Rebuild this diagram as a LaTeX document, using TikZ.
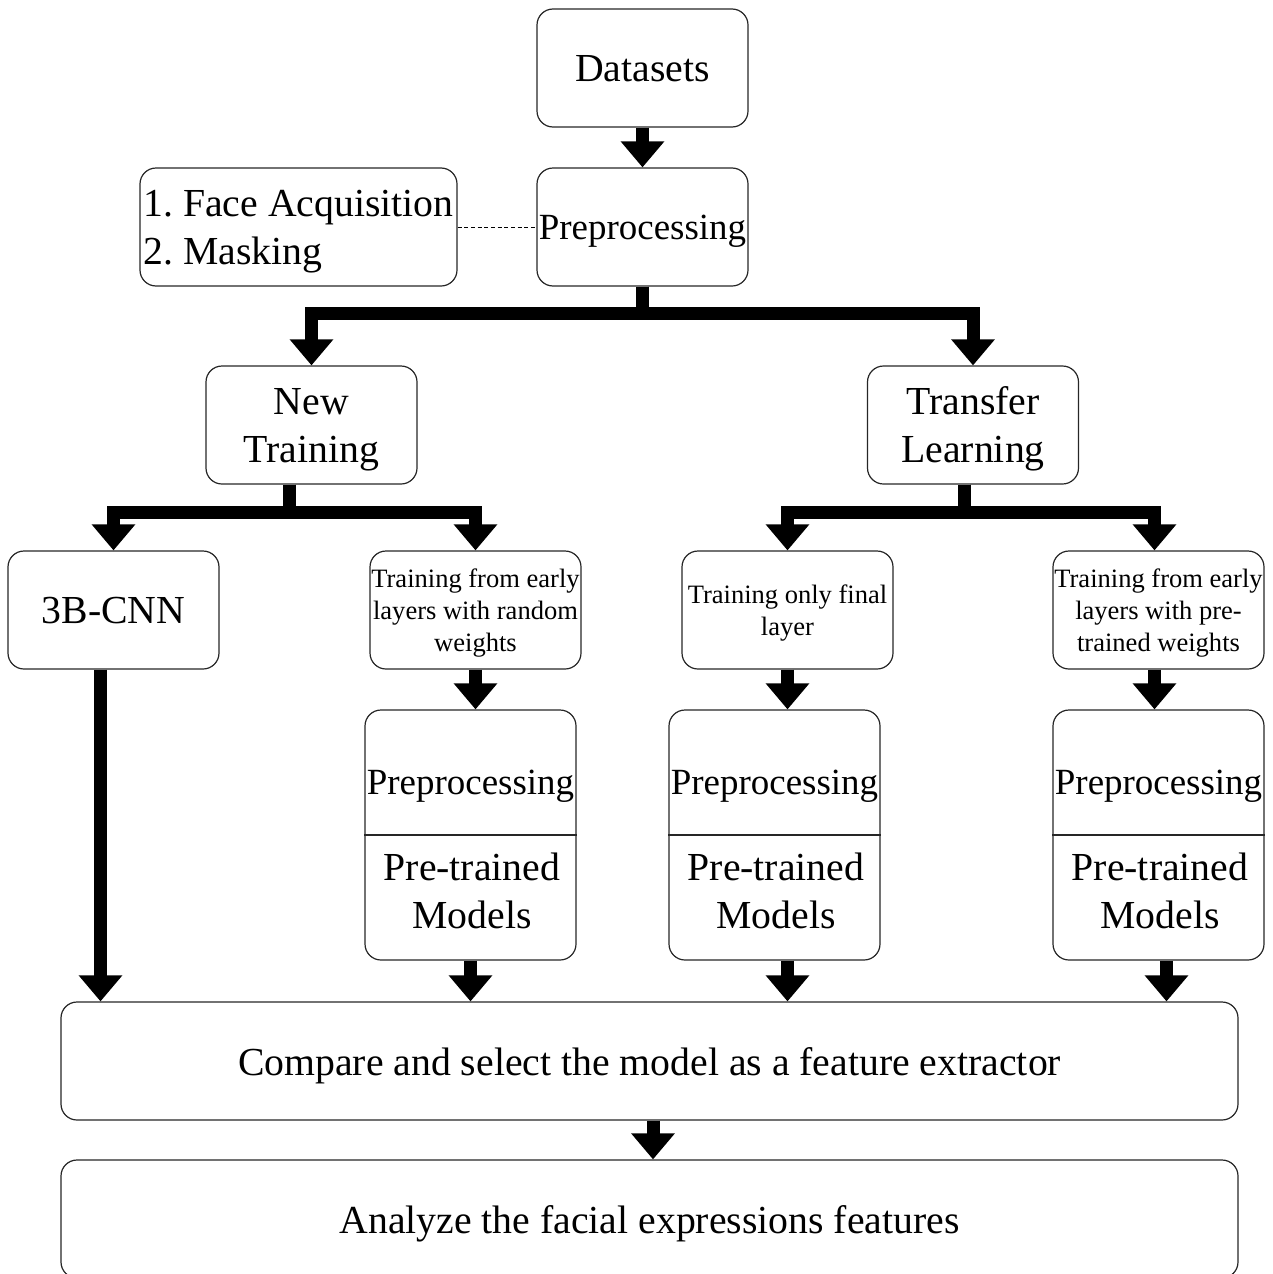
\documentclass[tikz,border=0pt]{standalone}
\usepackage{fontspec}
\setmainfont{Liberation Serif}
\usetikzlibrary{arrows.meta,calc}
\frenchspacing

\begin{document}
\begin{tikzpicture}[x=0.75pt,y=-0.75pt,
    box/.style={draw=black!85, line width=0.9pt, rounded corners=12pt, align=center,
        inner sep=0pt, minimum width=158.25pt, minimum height=88.5pt, text depth=0pt,
        font=\fontsize{29.8pt}{36pt}\selectfont},
    narrowtxt/.style={font=\fontsize{27.7pt}{35.5pt}\selectfont},
    smallbox/.style={box, font=\fontsize{19.9pt}{24pt}\selectfont},
    bigtext/.style={align=center, inner sep=0pt, font=\fontsize{29.8pt}{36pt}\selectfont},
    flow/.style={line width=9.75pt, line join=miter,
        -{Triangle[length=19.5pt,width=31.5pt]}},
  ]
    \useasboundingbox (0,0) rectangle (1273,1274);

    % top of the chain
    \node[box] (ds) at (642.5,68) {Datasets};
    \node[box, narrowtxt] (pre) at (642.5,227) {Preprocessing};
    \node[box, minimum width=237.75pt, align=left] (fa) at (298.5,227) {1. Face Acquisition\\2. Masking};
    \draw[densely dashed, line width=0.6pt] (fa) -- (pre);

    % two branches
    \node[box] (nt) at (311.5,425) {New\\Training};
    \node[box] (tl) at (973,425) {Transfer\\Learning};

    \node[box] (cnn) at (113.5,610) {3B-CNN};
    \node[smallbox] (rnd) at (475.5,610) {Training from early\\layers with random\\weights};
    \node[smallbox] (fin) at (787.5,610) {Training only final\\layer};
    \node[smallbox] (ptw) at (1158.5,610) {Training from early\\layers with pre-\\trained weights};

    % preprocessing + pre-trained models boxes
    \node[box, minimum height=187.5pt] (pp1) at (470.5,835) {};
    \draw[black!85, line width=0.9pt] (pp1.west) -- (pp1.east);
    \node[bigtext, narrowtxt] (pp1top) at (470.5,786) {Preprocessing};
    \node[bigtext] (pp1bot) at (472,891) {Pre-trained\\Models};

    \node[box, minimum height=187.5pt] (pp2) at (774.5,835) {};
    \draw[black!85, line width=0.9pt] (pp2.west) -- (pp2.east);
    \node[bigtext, narrowtxt] (pp2top) at (774.5,786) {Preprocessing};
    \node[bigtext] (pp2bot) at (776,891) {Pre-trained\\Models};

    \node[box, minimum height=187.5pt] (pp3) at (1158.5,835) {};
    \draw[black!85, line width=0.9pt] (pp3.west) -- (pp3.east);
    \node[bigtext, narrowtxt] (pp3top) at (1158.5,786) {Preprocessing};
    \node[bigtext] (pp3bot) at (1160,891) {Pre-trained\\Models};

    % bottom
    \node[box, minimum width=882.75pt] (cmp) at (649.5,1061) {Compare and select the model as a feature extractor};
    \node[box, minimum width=882.75pt] (ana) at (649.5,1219) {Analyze the facial expressions features};

    % arrows
    \draw[flow] (ds) -- (pre);
    \draw[flow] (pre.south) -- ++(0,27) -| (nt.north);
    \draw[flow] (pre.south) -- ++(0,27) -| (tl.north);

    \coordinate (ntout) at ($(nt.south)+(-22,0)$);
    \coordinate (tlout) at ($(tl.south)+(-9,0)$);
    \coordinate (ptwin) at ($(ptw.north)+(-4,0)$);
    \draw[flow] (ntout) -- ++(0,27.5) -| (cnn.north);
    \draw[flow] (ntout) -- ++(0,27.5) -| (rnd.north);
    \draw[flow] (tlout) -- ++(0,27.5) -| (fin.north);
    \draw[flow] (tlout) -- ++(0,27.5) -| (ptwin);

    \coordinate (ptwout) at ($(ptw.south)+(-4,0)$);
    \draw[flow] (rnd.south) -- (rnd.south |- pp1.north);
    \draw[flow] (fin.south) -- (fin.south |- pp2.north);
    \draw[flow] (ptwout) -- (ptwout |- pp3.north);

    \coordinate (cnnout) at ($(cnn.south)+(-13,0)$);
    \coordinate (pp2out) at ($(pp2.south)+(13,0)$);
    \coordinate (pp3out) at ($(pp3.south)+(8,0)$);
    \coordinate (cmpout) at ($(cmp.south)+(3.5,0)$);
    \draw[flow] (cnnout) -- (cnnout |- cmp.north);
    \draw[flow] (pp1.south) -- (pp1.south |- cmp.north);
    \draw[flow] (pp2out) -- (pp2out |- cmp.north);
    \draw[flow] (pp3out) -- (pp3out |- cmp.north);
    \draw[flow] (cmpout) -- (cmpout |- ana.north);
\end{tikzpicture}
\end{document}
